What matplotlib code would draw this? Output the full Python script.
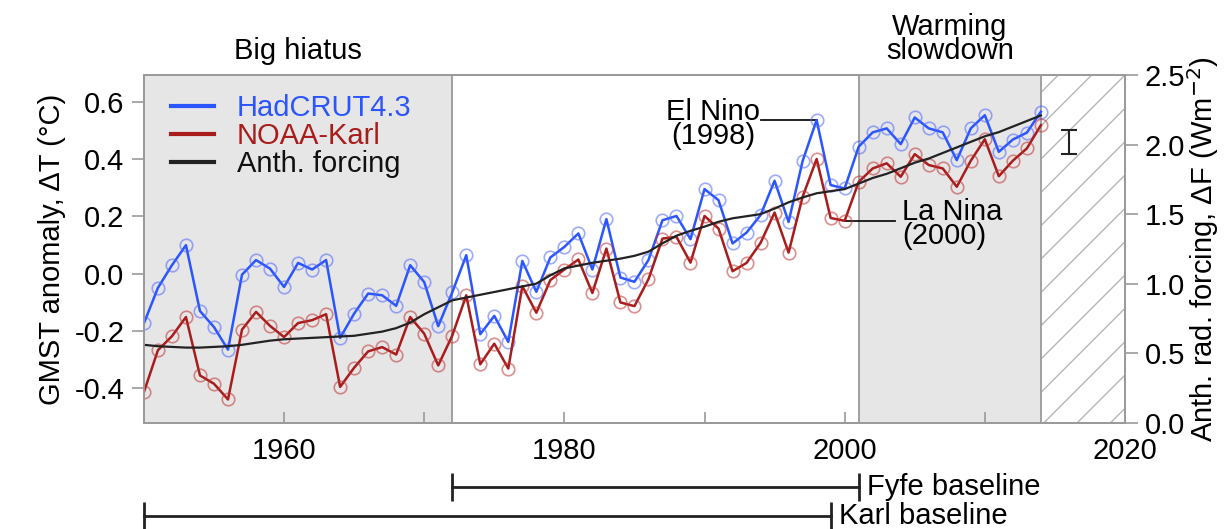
import matplotlib
matplotlib.use("Agg")
import matplotlib.pyplot as plt
import matplotlib.transforms as mtransforms
import numpy as np

plt.rcParams["font.family"] = ["Liberation Sans", "DejaVu Sans"]
plt.rcParams["axes.unicode_minus"] = False
plt.rcParams["hatch.linewidth"] = 1.0

# annual values
years = np.arange(1950, 2015)

hadcrut = [
    -0.174, -0.050, 0.029, 0.099, -0.131, -0.187, -0.266, -0.004, 0.047, 0.017,
    -0.047, 0.037, 0.014, 0.047, -0.225, -0.140, -0.070, -0.076, -0.113, 0.029,
    -0.030, -0.184, -0.066, 0.064, -0.212, -0.148, -0.239, 0.044, -0.064, 0.056,
    0.093, 0.140, 0.014, 0.190, -0.014, -0.029, 0.047, 0.186, 0.201, 0.120,
    0.295, 0.256, 0.105, 0.143, 0.204, 0.324, 0.180, 0.393, 0.536, 0.309,
    0.297, 0.443, 0.493, 0.507, 0.452, 0.545, 0.507, 0.493, 0.396, 0.507,
    0.553, 0.425, 0.468, 0.492, 0.565,
]

noaa_karl = [
    -0.414, -0.268, -0.219, -0.152, -0.356, -0.385, -0.440, -0.196, -0.134, -0.183,
    -0.222, -0.173, -0.163, -0.142, -0.396, -0.329, -0.272, -0.257, -0.283, -0.152,
    -0.210, -0.321, -0.217, -0.076, -0.317, -0.245, -0.332, -0.044, -0.137, -0.023,
    0.014, 0.049, -0.068, 0.087, -0.101, -0.114, -0.020, 0.122, 0.128, 0.038,
    0.201, 0.157, 0.008, 0.037, 0.107, 0.213, 0.073, 0.268, 0.400, 0.194,
    0.184, 0.320, 0.367, 0.385, 0.338, 0.417, 0.379, 0.367, 0.303, 0.394,
    0.469, 0.340, 0.394, 0.437, 0.518,
]

forcing = [
    0.56, 0.55, 0.545, 0.54, 0.54, 0.545, 0.55, 0.56, 0.575, 0.59,
    0.60, 0.605, 0.61, 0.615, 0.62, 0.625, 0.64, 0.655, 0.68, 0.72,
    0.78, 0.83, 0.88, 0.90, 0.92, 0.94, 0.96, 0.98, 1.00, 1.06,
    1.11, 1.13, 1.15, 1.165, 1.18, 1.20, 1.23, 1.29, 1.345, 1.38,
    1.41, 1.445, 1.47, 1.485, 1.50, 1.54, 1.585, 1.62, 1.65, 1.665,
    1.68, 1.72, 1.76, 1.79, 1.83, 1.87, 1.90, 1.94, 1.98, 2.02,
    2.06, 2.09, 2.13, 2.17, 2.21,
]

hiatus = (1950, 1972)
slowdown = (2001, 2014)
future = (2014, 2020)
fyfe_base = (1972, 2001)
karl_base = (1950, 1999)
err_year, err_mid, err_half = 2016, 0.46, 0.043
el_nino = (1998, 0.536)
la_nina = (2000, 0.184)

blue = "#2a55ff"
red = "#a81c1c"
grey = "#9a9a9a"
fs = 21

fig = plt.figure(figsize=(12.3, 5.29), dpi=100)
ax = fig.add_axes([0.117, 0.201, 0.7976, 0.657])
ax2 = ax.twinx()

ax.axvspan(*hiatus, color="#e6e6e6", lw=0, zorder=0)
ax.axvspan(*slowdown, color="#e6e6e6", lw=0, zorder=0)
ax.axvspan(*future, facecolor="white", edgecolor="#b5b5b5", hatch="/", lw=0, zorder=0)
for xv in (hiatus[1], slowdown[0], future[0]):
    ax.axvline(xv, color=grey, lw=1.3, zorder=1)

mk = dict(marker="o", markersize=9, markerfacecolor="none", markeredgewidth=1.2)
l1, = ax.plot(years, hadcrut, color=blue, lw=1.8, markeredgecolor=(0.3, 0.4, 1.0, 0.55),
              label="HadCRUT4.3", zorder=3, **mk)
l2, = ax.plot(years, noaa_karl, color=red, lw=1.8, markeredgecolor=(0.75, 0.2, 0.2, 0.55),
              label="NOAA-Karl", zorder=3, **mk)
l3, = ax2.plot(years, forcing, color="#222222", lw=1.6, label="Anth. forcing")

ax.errorbar([err_year], [err_mid], yerr=[err_half], color="#222222", lw=1.5,
            capsize=5.5, capthick=1.5, zorder=4)

# event labels
ax.plot([el_nino[0] - 4.0, el_nino[0]], [el_nino[1], el_nino[1]], color="#111111", lw=1.3)
ax.text(el_nino[0] - 7.4, el_nino[1] - 0.014, "El Nino\n(1998)", ha="center", va="center",
        fontsize=fs, linespacing=0.8)
ax.plot([la_nina[0], la_nina[0] + 3.6], [la_nina[1], la_nina[1]], color="#111111", lw=1.3)
ax.text(la_nina[0] + 4.1, la_nina[1] - 0.012, "La Nina\n(2000)", ha="left", va="center",
        fontsize=fs, linespacing=0.8)

ax.set_xlim(1950, 2020)
ax.set_ylim(-0.521, 0.693)
ax2.set_ylim(0, 2.5)

ax.set_xticks([1960, 1970, 1980, 1990, 2000, 2010, 2020])
ax.set_xticklabels(["1960", "", "1980", "", "2000", "", "2020"])
ax.set_yticks([-0.4, -0.2, 0.0, 0.2, 0.4, 0.6])
ax.set_yticklabels(["-0.4", "-0.2", "0.0", "0.2", "0.4", "0.6"])
ax2.set_yticks([0.0, 0.5, 1.0, 1.5, 2.0, 2.5])
ax2.set_yticklabels(["0.0", "0.5", "1.0", "1.5", "2.0", "2.5"])

ax.tick_params(axis="x", direction="in", length=8, width=1.2, color=grey,
               labelsize=fs, pad=10)
ax.tick_params(axis="y", direction="out", length=9, width=1.2, color=grey,
               labelsize=fs, pad=5)
ax2.tick_params(axis="y", direction="out", length=9, width=1.2, color=grey,
                labelsize=fs, pad=5)
for a in (ax, ax2):
    for sp in a.spines.values():
        sp.set_color(grey)
        sp.set_linewidth(1.3)

ax.set_ylabel("GMST anomaly, ΔT (°C)", fontsize=fs, labelpad=6)
ax2.set_ylabel("Anth. rad. forcing, ΔF (Wm$^{-2}$)", fontsize=fs, labelpad=0)

leg = ax.legend([l1, l2, l3], ["HadCRUT4.3", "NOAA-Karl", "Anth. forcing"],
                loc="upper left", bbox_to_anchor=(0.028, 0.945), frameon=False,
                fontsize=fs, handlelength=1.45, handletextpad=0.8, labelspacing=0.0,
                borderpad=0, borderaxespad=0)
for txt, col in zip(leg.get_texts(), [blue, red, "#111111"]):
    txt.set_color(col)
for h in leg.legend_handles:
    h.set_marker("")
    h.set_linewidth(3)

trans = mtransforms.blended_transform_factory(ax.transData, ax.transAxes)
ax.text(np.mean(hiatus), 1.03, "Big hiatus", transform=trans, ha="center", va="bottom",
        fontsize=fs)
ax.text(np.mean(slowdown), 1.03, "Warming\nslowdown", transform=trans, ha="center",
        va="bottom", fontsize=fs, linespacing=0.8)

# baseline periods under the axis
for period, yb, label in [(fyfe_base, -0.184, "Fyfe baseline"),
                          (karl_base, -0.268, "Karl baseline")]:
    ax.plot(period, [yb, yb], color="#222222", lw=2, transform=trans, clip_on=False,
            marker="|", markersize=20, markeredgewidth=2)
    ax.text(period[1] + 0.6, yb, label, transform=trans, ha="left", va="center",
            fontsize=fs, clip_on=False)

fig.savefig("out.png", dpi=100)
